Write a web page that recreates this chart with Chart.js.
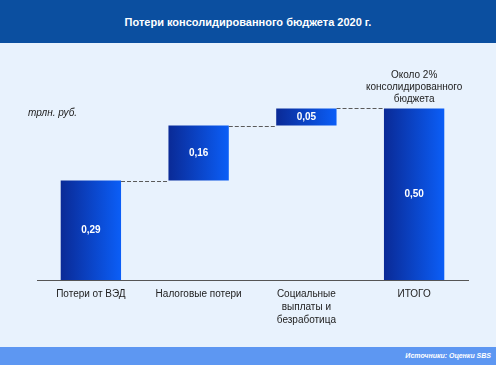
<!DOCTYPE html>
<html>
<head>
<meta charset="utf-8">
<script src="https://cdn.jsdelivr.net/npm/chart.js@4/dist/chart.umd.min.js"></script>
<style>
  html, body { margin: 0; padding: 0; }
  body { width: 496px; height: 365px; background: #e8f2fd; position: relative; overflow: hidden;
         font-family: "Liberation Sans", Arial, sans-serif; }
  #head { position: absolute; left: 0; top: 0; width: 496px; height: 43px; background: #0b4fa0;
          color: #fff; font-weight: bold; font-size: 11px; line-height: 44px; text-align: center; }
  #foot { position: absolute; left: 0; top: 347px; width: 496px; height: 18px; background: #5d97f2;
          color: #fff; font-weight: bold; font-style: italic; font-size: 7px; line-height: 18px;
          text-align: right; box-sizing: border-box; padding-right: 5px; }
  #wrap { position: absolute; left: 0; top: 0; width: 496px; height: 365px; }
</style>
</head>
<body>
<div id="head">Потери консолидированного бюджета 2020 г.</div>
<div id="foot">Источники: Оценки SBS</div>
<div id="wrap"><canvas id="chart"></canvas></div>
<script>
const FONT = '"Liberation Sans", Arial, sans-serif';

const categories = [
    ['Потери от ВЭД'],
    ['Налоговые потери'],
    ['Социальные', 'выплаты и', 'безработица'],
    ['ИТОГО']
];
const values = [0.29, 0.16, 0.05, 0.50];
const valueLabels = ['0,29', '0,16', '0,05', '0,50'];
const unitLabel = 'трлн. руб.';
const totalNote = ['Около 2%', 'консолидированного', 'бюджета'];

// floating bars: steps stack up, last one is the total from zero
const ranges = [];
let run = 0;
values.forEach((v, i) => {
    if (i === values.length - 1) {
        ranges.push([0, v]);
    } else {
        ranges.push([run, run + v]);
        run += v;
    }
});

const BAR_PCT = 0.56;

function barGradient(ctx) {
    const chart = ctx.chart;
    const x = chart.scales.x;
    if (!x || !chart.chartArea) return '#0a46d8';
    const step = (chart.chartArea.right - chart.chartArea.left) / categories.length;
    const cx = x.getPixelForValue(ctx.dataIndex);
    const half = step * BAR_PCT / 2;
    const g = chart.ctx.createLinearGradient(cx - half, 0, cx + half, 0);
    g.addColorStop(0, '#0a2a96');
    g.addColorStop(1, '#0b5ef7');
    return g;
}

const extras = {
    id: 'extras',
    afterDatasetsDraw(chart) {
        const ctx = chart.ctx;
        const meta = chart.getDatasetMeta(0);
        const y = chart.scales.y;
        ctx.save();

        // dashed connectors between bars
        ctx.strokeStyle = '#5a5a5a';
        ctx.lineWidth = 1;
        ctx.setLineDash([4, 2]);
        for (let i = 0; i < meta.data.length - 1; i++) {
            const a = meta.data[i], b = meta.data[i + 1];
            const level = Math.round(y.getPixelForValue(ranges[i][1])) + 0.5;
            ctx.beginPath();
            ctx.moveTo(a.x + a.width / 2, level);
            ctx.lineTo(b.x - b.width / 2, level);
            ctx.stroke();
        }
        ctx.setLineDash([]);

        // values inside bars
        ctx.fillStyle = '#fff';
        ctx.font = 'bold 10px ' + FONT;
        ctx.textAlign = 'center';
        ctx.textBaseline = 'middle';
        meta.data.forEach((bar, i) => {
            ctx.fillText(valueLabels[i], bar.x, (bar.y + bar.base) / 2);
        });

        // note above the total bar
        const last = meta.data[meta.data.length - 1];
        ctx.fillStyle = '#222';
        ctx.font = '10px ' + FONT;
        ctx.textBaseline = 'alphabetic';
        totalNote.forEach((line, i) => {
            ctx.fillText(line, last.x, last.y - 6 - (totalNote.length - 1 - i) * 12);
        });

        // unit label
        ctx.font = 'italic 10px ' + FONT;
        ctx.textAlign = 'left';
        ctx.textBaseline = 'middle';
        ctx.fillText(unitLabel, 28, 113);
        ctx.restore();
    }
};

new Chart(document.getElementById('chart'), {
    type: 'bar',
    data: {
        labels: categories,
        datasets: [{
            data: ranges,
            backgroundColor: barGradient,
            borderWidth: 0,
            borderSkipped: false,
            barPercentage: BAR_PCT,
            categoryPercentage: 1
        }]
    },
    options: {
        responsive: true,
        maintainAspectRatio: false,
        animation: false,
        layout: { padding: { left: 37, right: 28, top: 57, bottom: 30 } },
        plugins: { legend: { display: false }, tooltip: { enabled: false } },
        scales: {
            x: {
                grid: { display: false, drawTicks: false },
                border: { display: true, color: '#555', width: 1 },
                ticks: { color: '#222', padding: 8, maxRotation: 0, autoSkip: false,
                         font: { family: FONT, size: 10, lineHeight: 1.3 } }
            },
            y: {
                display: false,
                min: 0,
                max: 0.65
            }
        }
    },
    plugins: [extras]
});
</script>
</body>
</html>
